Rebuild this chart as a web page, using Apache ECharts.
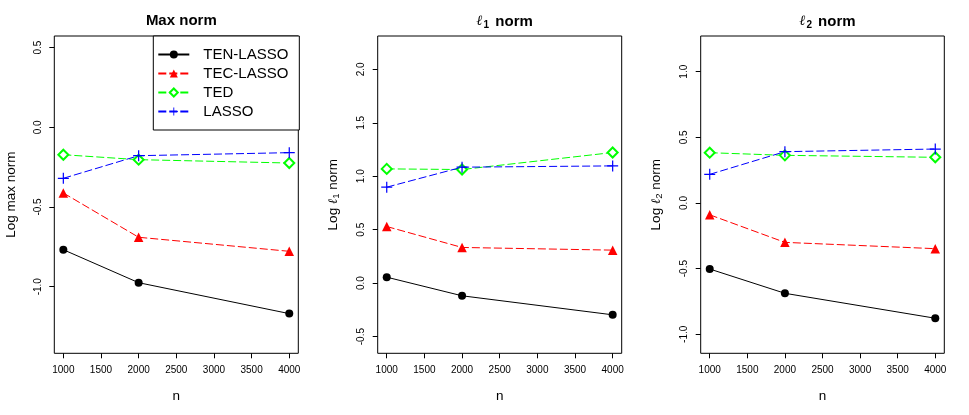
<!DOCTYPE html>
<html><head><meta charset="utf-8">
<script src="https://cdn.jsdelivr.net/npm/echarts@6/dist/echarts.min.js"></script>
<style>html,body{margin:0;padding:0;background:#fff}#c{width:969px;height:415px}</style>
</head><body><div id="c"></div>
<script>
const nValues = [1000, 2000, 4000];
const xTicks = [1000, 1500, 2000, 2500, 3000, 3500, 4000];
const seriesNames = ['TEN-LASSO', 'TEC-LASSO', 'TED', 'LASSO'];

const maxTEN = [-0.768, -0.975, -1.169];
const maxTEC = [-0.412, -0.690, -0.778];
const maxTED = [-0.172, -0.203, -0.224];
const maxLASSO = [-0.320, -0.178, -0.159];

const l1TEN = [0.056, -0.118, -0.296];
const l1TEC = [0.530, 0.334, 0.309];
const l1TED = [1.069, 1.063, 1.222];
const l1LASSO = [0.898, 1.085, 1.097];

const l2TEN = [-0.503, -0.688, -0.878];
const l2TEC = [-0.090, -0.300, -0.348];
const l2TED = [0.383, 0.363, 0.348];
const l2LASSO = [0.218, 0.391, 0.411];

const yTicks1 = [-1.0, -0.5, 0.0, 0.5];
const yTicks2 = [-0.5, 0.0, 0.5, 1.0, 1.5, 2.0];
const yTicks3 = [-1.0, -0.5, 0.0, 0.5, 1.0];

const FONT = 'Liberation Sans';
const grids = [
  {left: 54.3, right: 670.7, top: 36, bottom: 61.7},
  {left: 377.7, right: 347.3, top: 36, bottom: 61.7},
  {left: 700.7, right: 24.7, top: 36, bottom: 61.7}
];
const yRanges = [[-1.418, 0.573], [-0.656, 2.312], [-1.145, 1.272]];
const yTickSets = [yTicks1, yTicks2, yTicks3];
const yNames = ['Log max norm', '{t|Log }{l|ℓ}{s|1}{t| norm}', '{t|Log }{l|ℓ}{s|2}{t| norm}'];
const titles = ['{b|Max norm}', '{l|ℓ}{s|1}{b| norm}', '{l|ℓ}{s|2}{b| norm}'];
const panelData = [
  [maxTEN, maxTEC, maxTED, maxLASSO],
  [l1TEN, l1TEC, l1TED, l1LASSO],
  [l2TEN, l2TEC, l2TED, l2LASSO]
];

const styles = [
  {color: '#000000', symbol: 'circle', size: 8, dash: 'solid'},
  {color: '#FF0000', symbol: 'triangle', size: 9.5, dash: [8, 3]},
  {color: '#00FF00', symbol: 'emptyDiamond', size: 10, dash: [8, 3]},
  {color: '#0000FF', symbol: 'path://M4.45,0H5.55V4.45H10V5.55H5.55V10H4.45V5.55H0V4.45H4.45Z', size: 11, dash: [8, 3]}
];

const xAxes = [], yAxes = [], series = [], titleOpts = [];
grids.forEach((g, i) => {
  xAxes.push({
    type: 'value', gridIndex: i, min: 880, max: 4120,
    name: 'n', nameLocation: 'middle', nameGap: 36,
    nameTextStyle: {fontFamily: FONT, fontSize: 13.5, color: '#000'},
    axisLine: {show: false, onZero: false},
    splitLine: {show: false},
    axisTick: {show: true, length: 5, inside: false, customValues: xTicks, lineStyle: {color: '#000'}},
    axisLabel: {customValues: xTicks, margin: 12, fontFamily: FONT, fontSize: 10, color: '#000',
      formatter: v => String(v)}
  });
  yAxes.push({
    type: 'value', gridIndex: i, min: yRanges[i][0], max: yRanges[i][1],
    name: yNames[i], nameLocation: 'middle', nameGap: 36, nameRotate: 90,
    nameTextStyle: {fontFamily: FONT, fontSize: 13.5, color: '#000',
      rich: {t: {fontFamily: FONT, fontSize: 13.5, color: '#000'},
             l: {fontFamily: 'DejaVu Serif', fontStyle: 'italic', fontSize: 13, color: '#000'},
             s: {fontFamily: FONT, fontSize: 9.5, color: '#000', verticalAlign: 'bottom', padding: [6, 0, 0, 0]}}},
    axisLine: {show: false, onZero: false},
    splitLine: {show: false},
    axisTick: {show: true, length: 5, customValues: yTickSets[i], lineStyle: {color: '#000'}},
    axisLabel: {customValues: yTickSets[i], rotate: 90, margin: 11, fontFamily: FONT, fontSize: 10, color: '#000',
      formatter: v => v.toFixed(1)}
  });
  const cx = (g.left + (969 - g.right)) / 2;
  titleOpts.push({
    text: titles[i], left: cx, top: 8, textAlign: 'center',
    textStyle: {fontFamily: FONT, fontSize: 15, fontWeight: 'bold', color: '#000',
      rich: {b: {fontFamily: FONT, fontSize: 15, fontWeight: 'bold', color: '#000'},
             l: {fontFamily: 'DejaVu Serif', fontStyle: 'italic', fontSize: 14, color: '#000'},
             s: {fontFamily: FONT, fontSize: 10, fontWeight: 'bold', color: '#000', padding: [7, 2, 0, 1]}}}
  });
  panelData[i].forEach((vals, k) => {
    const st = styles[k];
    series.push({
      name: seriesNames[k], type: 'line', xAxisIndex: i, yAxisIndex: i,
      data: nValues.map((n, j) => [n, vals[j]]),
      symbol: st.symbol, symbolSize: st.size, showSymbol: true,
      lineStyle: {color: st.color, width: 1, type: st.dash},
      itemStyle: {color: st.symbol === 'emptyDiamond' ? '#00FF00' : st.color, borderColor: st.color, borderWidth: st.symbol === 'emptyDiamond' ? 1.3 : 0},
      emphasis: {disabled: true},
      animation: false, z: 3 + k
    });
  });
});

const chart = echarts.init(document.getElementById('c'), null, {renderer: 'canvas'});
chart.setOption({
  animation: false,
  backgroundColor: '#fff',
  title: titleOpts,
  grid: grids.map(g => Object.assign({show: true, borderColor: '#000', borderWidth: 1, backgroundColor: 'transparent'}, g)),
  xAxis: xAxes,
  yAxis: yAxes,
  legend: {
    data: seriesNames, orient: 'vertical', left: 153.3, top: 36,
    padding: [11, 11, 11, 4], itemWidth: 31, itemHeight: 10, itemGap: 4,
    borderColor: '#000', borderWidth: 1, backgroundColor: '#fff',
    selectedMode: false,
    textStyle: {fontFamily: FONT, fontSize: 15, lineHeight: 15, color: '#000', padding: [0, 0, 0, 9]}
  },
  series: series
});
</script></body></html>
